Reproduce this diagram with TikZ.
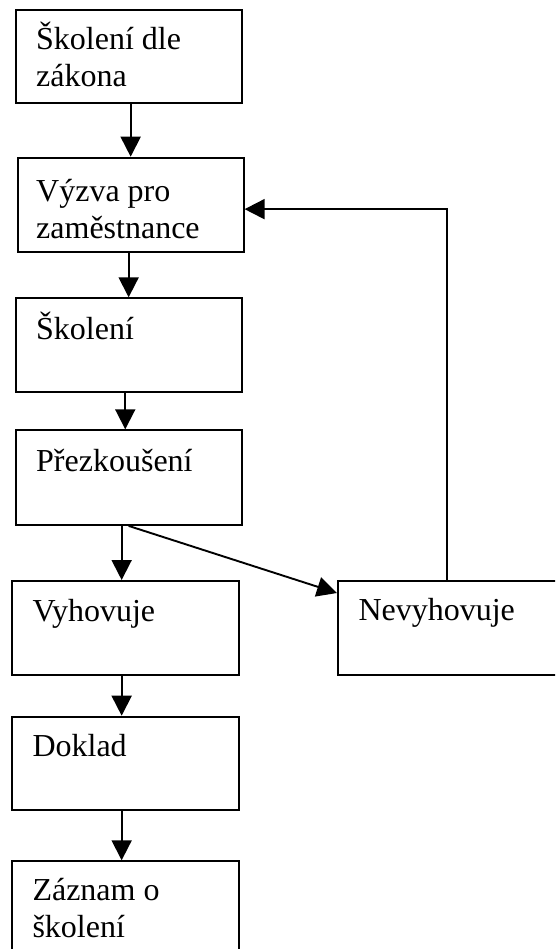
\documentclass[tikz,border=0pt]{standalone}
\usepackage{fontspec}
\setmainfont{Liberation Serif}
\usetikzlibrary{arrows.meta}
\begin{document}
\begin{tikzpicture}[x=1pt,y=-1pt,
  box/.style={draw,line width=1.9pt,rectangle,anchor=north west,inner sep=0pt},
  lbl/.style={anchor=base west,inner sep=0pt,font=\fontsize{32}{36.8}\selectfont},
  arr/.style={line width=1.9pt,-{Triangle[length=20pt,width=20pt]}}]
\useasboundingbox (0,0) rectangle (555,949);
\clip (0,0) rectangle (555,949);
\node[box,minimum width=226pt,minimum height=92.7pt] (b1) at (14.7,9) {};
\node[box,minimum width=226pt,minimum height=94pt] (b2) at (16.7,156.7) {};
\node[box,minimum width=226pt,minimum height=93.7pt] (b3) at (14.7,297.3) {};
\node[box,minimum width=226pt,minimum height=94.7pt] (b4) at (14.7,429.3) {};
\node[box,minimum width=227pt,minimum height=94.3pt] (b5) at (11,580) {};
\node[box,minimum width=240pt,minimum height=94pt] (b6) at (337,580) {};
\node[box,minimum width=227pt,minimum height=93.6pt] (b7) at (11,715.7) {};
\node[box,minimum width=227pt,minimum height=120pt] (b8) at (11,860.3) {};
\node[lbl] (t1) at (36,50) {\vtop{\hbox{Školení dle}\hbox{zákona}}};
\node[lbl] (t2) at (36,201.7) {\vtop{\hbox{Výzva pro}\hbox{zaměstnance}}};
\node[lbl] (t3) at (36,339) {Školení};
\node[lbl] (t4) at (36,471.7) {Přezkoušení};
\node[lbl] (t5) at (32.3,621) {Vyhovuje};
\node[lbl] (t6) at (358.3,620.7) {Nevyhovuje};
\node[lbl] (t7) at (32.3,756) {Doklad};
\node[lbl] (t8) at (32.3,900.7) {\vtop{\hbox{Záznam o}\hbox{školení}}};
\draw[arr] (b2.north |- b1.south) -- (b2.north);
\draw[arr] (b3.north |- b2.south) -- (b3.north);
\draw[arr] ([xshift=-3.4pt]b4.north |- b3.south) -- ([xshift=-3.4pt]b4.north);
\draw[arr] ([xshift=-3.8pt]b5.north |- b4.south) -- ([xshift=-3.8pt]b5.north);
\draw[arr] ([xshift=-3.8pt]b7.north |- b5.south) -- ([xshift=-3.8pt]b7.north);
\draw[arr] ([xshift=-3.8pt]b8.north |- b7.south) -- ([xshift=-3.8pt]b8.north);
\draw[arr] (b4.south) -- ([yshift=-13pt]b6.north west);
\draw[arr] ([xshift=110pt]b6.north west) |- ([yshift=-4.5pt]b2.east);
\end{tikzpicture}
\end{document}
